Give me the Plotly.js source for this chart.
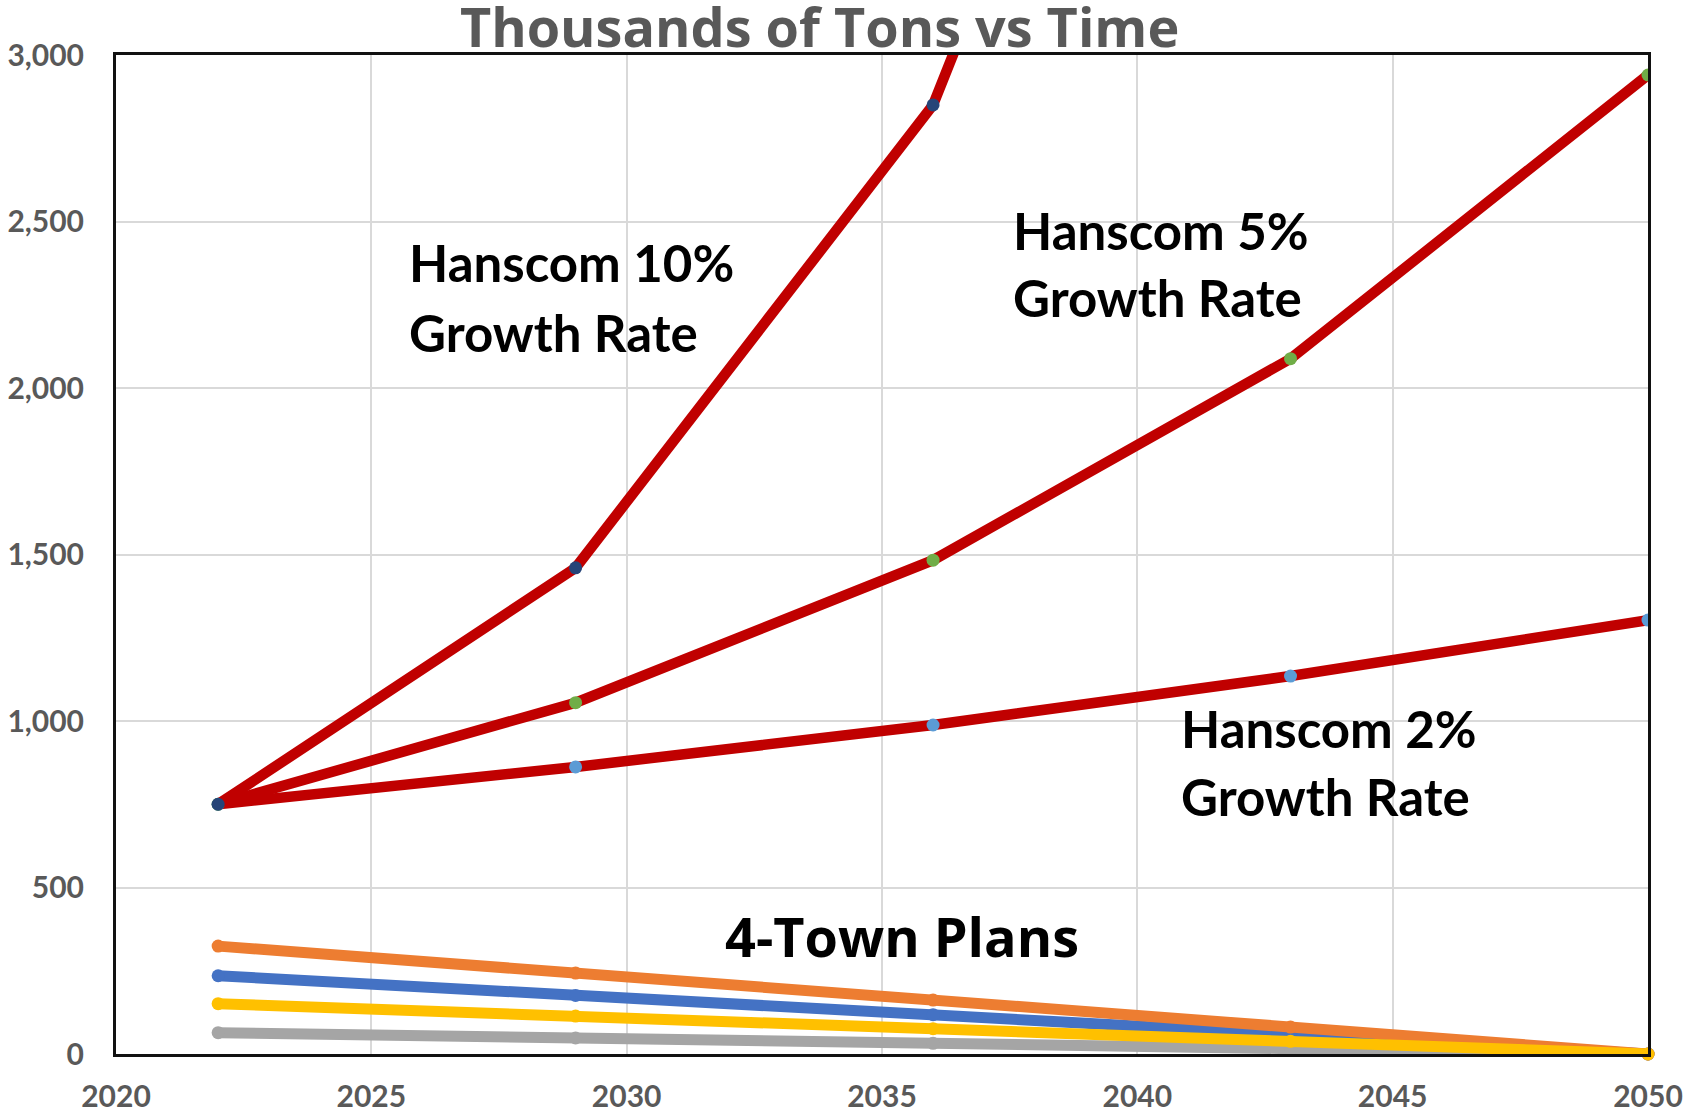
<!DOCTYPE html>
<html>
<head>
<meta charset="utf-8">
<script src="https://cdn.plot.ly/plotly-3.0.1.min.js"></script>
<style>html,body{margin:0;padding:0;background:#fff;}#chart{width:1683px;height:1120px;}</style>
</head>
<body>
<div id="chart"></div>
<script>
// Data
const years = [2022, 2029, 2036, 2043, 2050];
const hanscom10 = [750, 1460, 2850, 5550, 10800];
const hanscom5 = [750, 1055, 1483, 2088, 2940];
const hanscom2 = [750, 862, 988, 1135, 1303];
const townOrange = [324, 243, 162, 81, 0];
const townBlue = [235, 176, 118, 59, 0];
const townYellow = [151, 114, 76, 38, 0];
const townGray = [64, 48, 32, 16, 0];
const xTicks = [2020, 2025, 2030, 2035, 2040, 2045, 2050];
const yTicks = [0, 500, 1000, 1500, 2000, 2500, 3000];

const red = '#C00000';
function hLine(y, markerColor) {
  return {x: years, y: y, type: 'scatter', mode: 'lines+markers',
    line: {color: red, width: 10.5},
    marker: {color: markerColor, size: 13},
    cliponaxis: true, showlegend: false, hoverinfo: 'x+y'};
}
function tLine(y, color) {
  return {x: years, y: y, type: 'scatter', mode: 'lines+markers',
    line: {color: color, width: 11},
    marker: {color: color, size: 13},
    cliponaxis: false, showlegend: false, hoverinfo: 'x+y'};
}
const traces = [
  tLine(townGray, '#A5A5A5'),
  tLine(townBlue, '#4472C4'),
  tLine(townOrange, '#ED7D31'),
  tLine(townYellow, '#FFC000'),
  hLine(hanscom2, '#5B9BD5'),
  hLine(hanscom5, '#70AD47'),
  hLine(hanscom10, '#264478')
];

const tickFont = {family: 'Lato', size: 30, color: '#595959', weight: 'bold'};
const annFont = {family: 'Lato', size: 51, color: '#000000', weight: 'bold'};
function label(text, x, y) {
  return {text: text, xref: 'paper', yref: 'paper', x: x, y: y,
    xanchor: 'left', yanchor: 'middle', align: 'left', showarrow: false, font: annFont};
}

const layout = {
  width: 1683, height: 1120,
  margin: {l: 116, r: 35, t: 55, b: 66, pad: 0},
  paper_bgcolor: '#ffffff', plot_bgcolor: '#ffffff',
  title: {text: 'Thousands of Tons vs Time', x: 0.487, xref: 'container', xanchor: 'center',
    y: 0.975, yref: 'container', yanchor: 'middle',
    font: {family: 'Open Sans', size: 54, color: '#595959', weight: 'bold'}},
  xaxis: {range: [2020, 2050], tickvals: xTicks, ticktext: xTicks.map(String),
    showgrid: true, gridcolor: '#D9D9D9', gridwidth: 1.5, zeroline: false,
    showline: true, linecolor: '#111111', linewidth: 3, mirror: true,
    ticks: '', ticklabelstandoff: 14, tickfont: tickFont},
  yaxis: {range: [0, 3000], tickvals: yTicks, tickformat: ',d',
    showgrid: true, gridcolor: '#D9D9D9', gridwidth: 1.5, zeroline: false,
    showline: true, linecolor: '#111111', linewidth: 3, mirror: true,
    ticks: '', ticklabelstandoff: 23, tickfont: tickFont},
  annotations: [
    label('Hanscom 10%', 0.190, 0.792),
    label('Growth Rate', 0.190, 0.722),
    label('Hanscom 5%', 0.584, 0.824),
    label('Growth Rate', 0.584, 0.757),
    label('Hanscom 2%', 0.694, 0.326),
    label('Growth Rate', 0.694, 0.258),
    {text: '4-Town Plans', xref: 'paper', yref: 'paper', x: 0.513, y: 0.118,
      xanchor: 'center', yanchor: 'middle', align: 'center', showarrow: false,
      font: {family: 'Open Sans', size: 54, color: '#000000', weight: 'bold'}}
  ]
};
Plotly.newPlot('chart', traces, layout, {displayModeBar: false, responsive: false});
</script>
</body>
</html>
